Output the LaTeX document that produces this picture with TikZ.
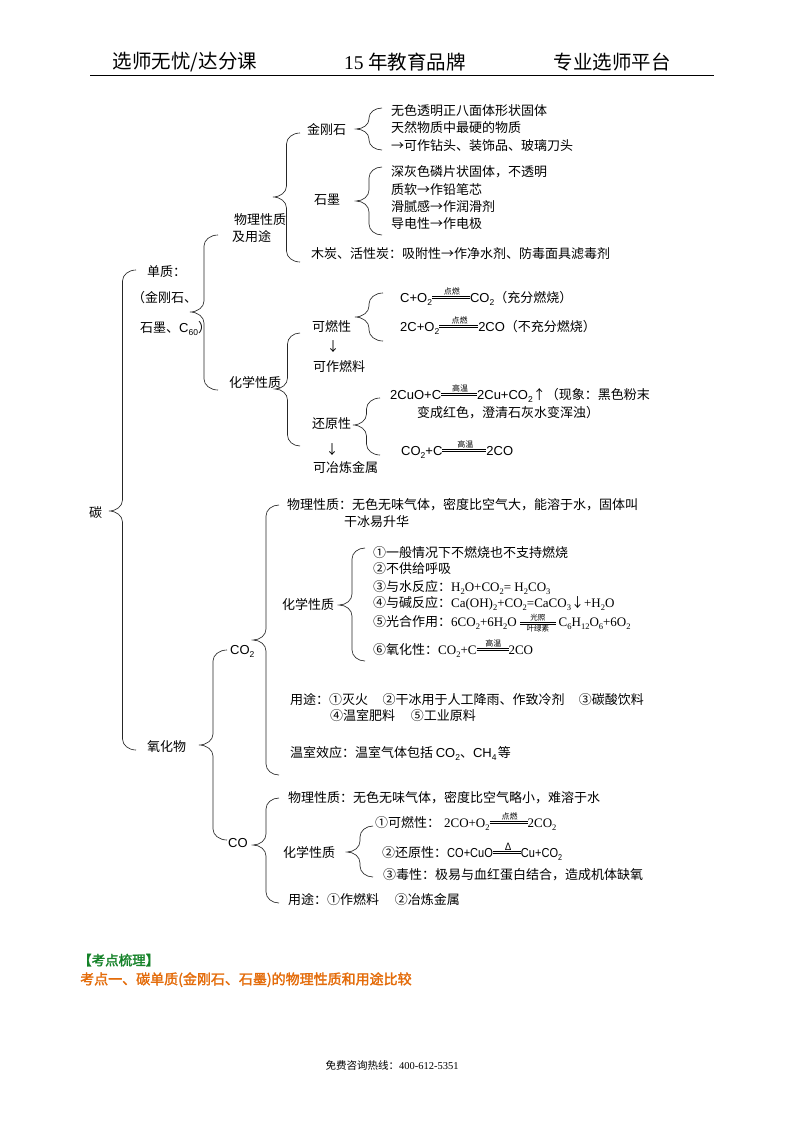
\documentclass[tikz,border=0pt]{standalone}
\usepackage{fontspec}
\setmainfont{Noto Sans CJK SC}
\newfontfamily\lsans{Liberation Sans}
\newfontfamily\lsansn{Liberation Sans}[FakeStretch=0.85]
\newfontfamily\lserif{Liberation Serif}
\newfontfamily\cjkbold{Noto Sans CJK SC}[FakeBold=2]
\usetikzlibrary{calc}
\definecolor{kdgreen}{RGB}{20,130,40}
\definecolor{kdorange}{RGB}{228,108,10}
\newcommand\fa[1]{{\lsans #1}}
\newcommand\fn[1]{{\lsansn #1}}
\newcommand\fr[1]{{\lserif #1}}
\newcommand\sbs[1]{\raisebox{-0.22em}{\fontsize{8.5}{8.5}\selectfont #1}}
\newcommand\eqc[3][\fontsize{8}{8}\selectfont]{\raisebox{0.27em}{\vbox{\hbox to #2{\hss#1 #3\hss}\kern0.6pt\hrule height0.6pt\kern1.4pt\hrule height0.6pt}}}
\newcommand\eqcc[3]{$\vcenter{\hbox to #1{\hss\fontsize{7.5}{7.5}\selectfont #2\hss}\kern0.6pt\hrule height0.6pt\kern1.3pt\hrule height0.6pt\kern0.8pt\hbox to #1{\hss\fontsize{7.5}{7.5}\selectfont #3\hss}}$}
\newcommand\cbrace[3]{%
  \draw[brline] let \p1=(#1), \p2=(#2), \p3=(#3),
    \n1={(\x1+\x3)/2}, \n2={(\x1-\x3)/2*0.552}, \n3={min(11pt,(\y1-\y2)/4.2)} in
    (\p1) .. controls (\x1-\n2,\y1) and (\n1,\y1-0.448*\n3) .. (\n1,\y1-\n3)
    -- (\n1,\y3+\n3) .. controls (\n1,\y3+0.448*\n3) and (\x3+\n2,\y3) .. (\p3)
    .. controls (\x3+\n2,\y3) and (\n1,\y3-0.448*\n3) .. (\n1,\y3-\n3)
    -- (\n1,\y2+\n3) .. controls (\n1,\y2+0.448*\n3) and (\x2-\n2,\y2) .. (\p2);}
\tikzset{
  txt/.style={anchor=west,inner sep=0pt,text height=10.5pt,text depth=2pt,font=\fontsize{13}{15}\selectfont},
  hdr/.style={inner sep=0pt,font=\fontsize{19.5}{22}\selectfont},
  brline/.style={line width=0.65pt,draw=black!85},
}
\begin{document}
\begin{tikzpicture}[x=1pt,y=-1pt]
\fill[white] (0,0) rectangle (794,1122);
\useasboundingbox (0,0) rectangle (794,1122);
% header
\node[hdr] (h1) at (185,62) {选师无忧/达分课};
\node[hdr] (h2) at (405,62) {\fr{15 }年教育品牌};
\node[hdr] (h3) at (612,62) {专业选师平台};
\coordinate (hl1) at (90,75); \coordinate (hl2) at (714,75);
\draw[line width=1pt] (hl1) -- (hl2);
% ---- 单质 physical
\node[txt] (jgs) at (307,130) {金刚石};
\node[txt] (jgs1) at (391,111) {无色透明正八面体形状固体};
\node[txt] (jgs2) at (391,128) {天然物质中最硬的物质};
\node[txt] (jgs3) at (391,146) {→可作钻头、装饰品、玻璃刀头};
\node[txt] (sm) at (314,200) {石墨};
\node[txt] (sm1) at (391,172) {深灰色磷片状固体，不透明};
\node[txt] (sm2) at (391,190) {质软→作铅笔芯};
\node[txt] (sm3) at (391,207) {滑腻感→作润滑剂};
\node[txt] (sm4) at (391,224) {导电性→作电极};
\node[txt] (mt) at (311,254) {木炭、活性炭：吸附性→作净水剂、防毒面具滤毒剂};
\node[txt] (wl1) at (234,220) {物理性质};
\node[txt] (wl2) at (232,237) {及用途};
\node[txt] (dz1) at (147,272) {单质：};
\node[txt] (dz2) at (132,298) {（金刚石、};
\node[txt] (dz3) at (140,328) {石墨、\fa{C\sbs{60}}）};
% ---- 单质 chemical
\node[txt] (hx) at (229,383) {化学性质};
\node[txt] (rs) at (312,327) {可燃性};
\node[txt,anchor=center] (rsa) at (333,347) {↓};
\node[txt] (rsu) at (313,367) {可作燃料};
\node[txt] (rs1) at (400,298) {\fa{C+O\sbs2}\eqc{38pt}{点燃}\fa{CO\sbs2}（充分燃烧）};
\node[txt] (rs2) at (400,327) {\fa{2C+O\sbs2}\eqc{39pt}{点燃}\fa{2CO}（不充分燃烧）};
\node[txt] (hy) at (312,424) {还原性};
\node[txt,anchor=center] (hya) at (332,450) {↓};
\node[txt] (hyu) at (313,468) {可冶炼金属};
\node[txt] (hy1) at (390,395) {\fa{2CuO+C}\eqc{36pt}{高温}\fa{2Cu+CO\sbs2}↑（现象：黑色粉末};
\node[txt] (hy2) at (417,413) {变成红色，澄清石灰水变浑浊）};
\node[txt] (hy3) at (401,451) {\fa{CO\sbs2+C}\eqc{44pt}{高温}\fa{2CO}};
% ---- root
\node[txt] (tan) at (89,513) {碳};
\node[txt] (yhw) at (147,747) {氧化物};
% ---- CO2
\node[txt] (co2) at (230,650) {\fa{CO\sbs2}};
\node[txt] (co2w1) at (287,505) {物理性质：无色无味气体，密度比空气大，能溶于水，固体叫};
\node[txt] (co2w2) at (344,522) {干冰易升华};
\node[txt] (co2hx) at (282,605) {化学性质};
\node[txt] (c1) at (373,553) {①一般情况下不燃烧也不支持燃烧};
\node[txt] (c2) at (373,569) {②不供给呼吸};
\node[txt] (c3) at (373,587) {③与水反应：\fr{H\sbs2O+CO\sbs2= H\sbs2CO\sbs3}};
\node[txt] (c4) at (373,603) {④与碱反应：\fr{Ca(OH)\sbs2+CO\sbs2=CaCO\sbs3}↓\fr{+H\sbs2O}};
\node[txt] (c5) at (373,622) {⑤光合作用：\fr{6CO\sbs2+6H\sbs2O} \eqcc{36pt}{光照}{叶绿素} \fr{C\sbs6H\sbs{12}O\sbs6+6O\sbs2}};
\node[txt] (c6) at (373,650) {⑥氧化性：\fr{CO\sbs2+C}\eqc{32pt}{高温}\fr{2CO}};
\node[txt] (co2y1) at (290,700) {用途：①灭火\hspace{1.1em}②干冰用于人工降雨、作致冷剂\hspace{1.1em}③碳酸饮料};
\node[txt] (co2y2) at (330,716) {④温室肥料\hspace{1.2em}⑤工业原料};
\node[txt] (co2ws) at (290,753) {温室效应：温室气体包括\hspace{0.2em}\fa{CO\sbs2}、\fa{CH\sbs4}\hspace{0.1em}等};
% ---- CO
\node[txt] (co) at (228,843) {\fa{CO}};
\node[txt] (cow) at (288,798) {物理性质：无色无味气体，密度比空气略小，难溶于水};
\node[txt] (cohx) at (283,853) {化学性质};
\node[txt] (co1) at (375,823) {①可燃性：\hspace{0.3em}\fr{2CO+O\sbs2}\eqc{38pt}{点燃}\fr{2CO\sbs2}};
\node[txt] (co2r) at (382,853) {②还原性：\fn{CO+CuO}\eqc[\fontsize{10}{10}\selectfont]{28pt}{Δ}\fn{Cu+CO\sbs2}};
\node[txt] (co3) at (383,875) {③毒性：极易与血红蛋白结合，造成机体缺氧};
\node[txt] (coy) at (288,900) {用途：①作燃料\hspace{1.2em}②冶炼金属};
% ---- braces (top end, bottom end, tip)
\coordinate (jgsT) at (382,108); \coordinate (jgsB) at (382,150); \coordinate (jgsP) at (356,129);
\coordinate (smT) at (382,167); \coordinate (smB) at (382,235); \coordinate (smP) at (356,201);
\coordinate (wlT) at (300,133); \coordinate (wlB) at (300,262); \coordinate (wlP) at (273,197);
\coordinate (dzT) at (218,235); \coordinate (dzB) at (218,390); \coordinate (dzP) at (190,312);
\coordinate (hxT) at (300,333); \coordinate (hxB) at (300,446); \coordinate (hxP) at (275,389);
\coordinate (rsT) at (383,293); \coordinate (rsB) at (383,341); \coordinate (rsP) at (355,317);
\coordinate (hyT) at (380,398); \coordinate (hyB) at (380,455); \coordinate (hyP) at (353,425);
\coordinate (tanT) at (136,270); \coordinate (tanB) at (136,750); \coordinate (tanP) at (109,511);
\coordinate (yhwT) at (227,650); \coordinate (yhwB) at (227,840); \coordinate (yhwP) at (199,745);
\coordinate (co2T) at (279,505); \coordinate (co2B) at (279,775); \coordinate (co2P) at (253,640);
\coordinate (chT) at (365,548); \coordinate (chB) at (365,661); \coordinate (chP) at (339,605);
\coordinate (coT) at (279,798); \coordinate (coB) at (279,903); \coordinate (coP) at (253,845);
\coordinate (cchT) at (373,826); \coordinate (cchB) at (373,877); \coordinate (cchP) at (347,852);
\cbrace{jgsT}{jgsB}{jgsP}
\cbrace{smT}{smB}{smP}
\cbrace{wlT}{wlB}{wlP}
\cbrace{dzT}{dzB}{dzP}
\cbrace{hxT}{hxB}{hxP}
\cbrace{rsT}{rsB}{rsP}
\cbrace{hyT}{hyB}{hyP}
\cbrace{tanT}{tanB}{tanP}
\cbrace{yhwT}{yhwB}{yhwP}
\cbrace{co2T}{co2B}{co2P}
\cbrace{chT}{chB}{chP}
\cbrace{coT}{coB}{coP}
\cbrace{cchT}{cchB}{cchP}
% ---- bottom
\node[txt,font=\cjkbold\fontsize{13.5}{15}\selectfont,text=kdgreen] (kd) at (78,961) {【考点梳理】};
\node[txt,font=\cjkbold\fontsize{14}{16}\selectfont,text=kdorange] (kd1) at (80,980) {考点一、碳单质(金刚石、石墨)的物理性质和用途比较};
\node[inner sep=0pt,font=\fontsize{10.5}{12}\selectfont] (foot) at (392,1066) {免费咨询热线：\fr{400-612-5351}};
\end{tikzpicture}
\end{document}
